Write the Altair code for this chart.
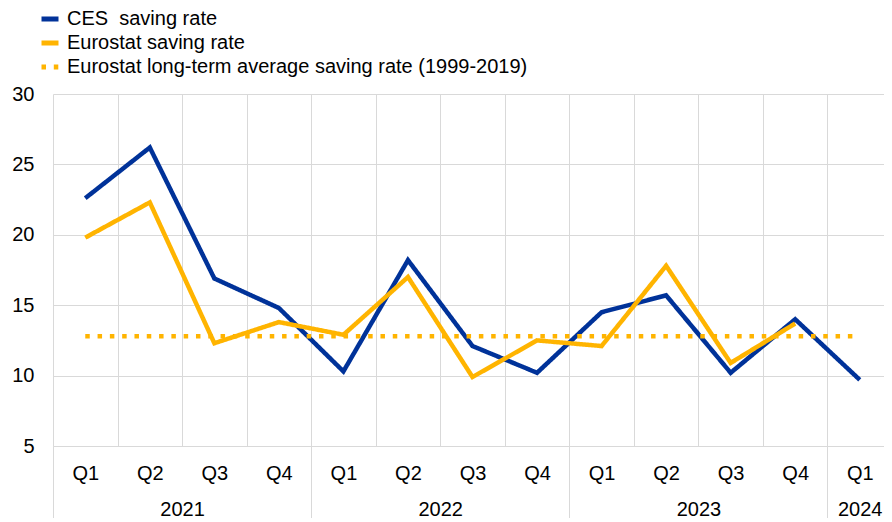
import json
import altair as alt
import pandas as pd

periods = ["2021 Q1", "2021 Q2", "2021 Q3", "2021 Q4",
           "2022 Q1", "2022 Q2", "2022 Q3", "2022 Q4",
           "2023 Q1", "2023 Q2", "2023 Q3", "2023 Q4",
           "2024 Q1"]
ces = [22.6, 26.2, 16.9, 14.8, 10.3, 18.2, 12.1, 10.2, 14.5, 15.7, 10.2, 14.0, 9.7]
eurostat = [19.8, 22.3, 12.3, 13.8, 12.9, 17.0, 9.9, 12.5, 12.1, 17.8, 10.9, 13.7, None]
long_term_avg = [12.8] * 13

series_names = ["CES\u00a0 saving rate", "Eurostat saving rate",
                "Eurostat long-term average saving rate (1999-2019)"]
series_colors = ["#003299", "#FFB400", "#FFB400"]
series_dash = [[1, 0], [1, 0], [4.5, 7.8]]

rows = []
for name, vals in zip(series_names, [ces, eurostat, long_term_avg]):
    for i, (p, v) in enumerate(zip(periods, vals)):
        if v is not None:
            rows.append({"idx": i, "period": p, "series": name, "value": v})
df = pd.DataFrame(rows)
df_base = df[df["series"] == series_names[0]]

n = len(periods)
q_labels = [p.split(" ")[1] for p in periods]
years = [p.split(" ")[0] for p in periods]
year_list = sorted(set(years))


def fmt(v):
    return str(int(v)) if float(v).is_integer() else str(v)


year_centers = [sum(i for i, y in enumerate(years) if y == yr) / years.count(yr) for yr in year_list]
year_starts = [min(i for i, y in enumerate(years) if y == yr) - 0.5 for yr in year_list]
band_edges = [i - 0.5 for i in range(n + 1)]
year_map = {fmt(c): yr for c, yr in zip(year_centers, year_list)}

FONT = "Liberation Sans"
GRID = "#d9d9d9"
FS = 20

PLOT_W = 831      # drawn width (fits the page)
RANGE_W = 839     # full band range, last band runs to the page edge

xscale = alt.Scale(domain=[-0.5, n - 0.5], range=[0, RANGE_W], nice=False, zero=False)
yscale = alt.Scale(domain=[5, 30], nice=False, zero=False)

y_axis = alt.Axis(values=[5, 10, 15, 20, 25, 30], grid=True, gridColor=GRID, gridWidth=1,
                  domain=False, ticks=False, labelFontSize=FS, labelFont=FONT,
                  labelColor="#000000", labelPadding=19, title=None)

grid_axis = alt.Axis(values=band_edges, grid=True, gridColor=GRID, gridWidth=1,
                     labels=False, ticks=False, domain=True, domainColor=GRID,
                     orient="bottom", title=None)

q_axis = alt.Axis(values=list(range(n)), grid=False, ticks=False, domain=False,
                  labelExpr=json.dumps(q_labels) + "[datum.value]",
                  labelFontSize=FS, labelFont=FONT, labelColor="#000000",
                  labelPadding=17, labelOverlap=False, orient="bottom", title=None)

sep_axis = alt.Axis(values=year_starts, grid=False, ticks=True, tickSize=76,
                    tickColor=GRID, tickWidth=1, labels=False, domain=False,
                    orient="bottom", title=None)

year_axis = alt.Axis(values=year_centers, grid=False, ticks=False, domain=False,
                     labelExpr=json.dumps(year_map) + "[toString(datum.value)]",
                     labelFontSize=FS, labelFont=FONT, labelColor="#000000",
                     labelPadding=53, labelOverlap=False, orient="bottom", title=None)

legend = alt.Legend(title=None, orient="none", legendX=-14, legendY=-86,
                    symbolType="stroke", symbolStrokeWidth=5, symbolSize=289,
                    labelFontSize=FS, labelFont=FONT, labelColor="#000000",
                    labelOffset=6, rowPadding=3, padding=0, labelLimit=900)

lines = alt.Chart(df).mark_line(strokeWidth=4.5).encode(
    x=alt.X("idx:Q", scale=xscale, axis=grid_axis),
    y=alt.Y("value:Q", scale=yscale, axis=y_axis),
    color=alt.Color("series:N",
                    scale=alt.Scale(domain=series_names, range=series_colors),
                    legend=legend),
    strokeDash=alt.StrokeDash("series:N",
                              scale=alt.Scale(domain=series_names, range=series_dash),
                              legend=legend),
    detail="series:N",
)


def ghost(axis):
    return alt.Chart(df_base).mark_line(opacity=0).encode(
        x=alt.X("idx:Q", scale=xscale, axis=axis),
        y=alt.Y("value:Q", scale=yscale, axis=y_axis),
    )


chart = alt.layer(lines, ghost(q_axis), ghost(sep_axis), ghost(year_axis)).resolve_axis(
    x="independent"
).properties(
    width=PLOT_W, height=352,
    autosize=alt.AutoSizeParams(type="none"),
    padding={"left": 45, "top": 86, "right": 0, "bottom": 72},
).configure_view(stroke=None)

chart.save("out.html", embed_options={"renderer": "svg", "actions": False})
